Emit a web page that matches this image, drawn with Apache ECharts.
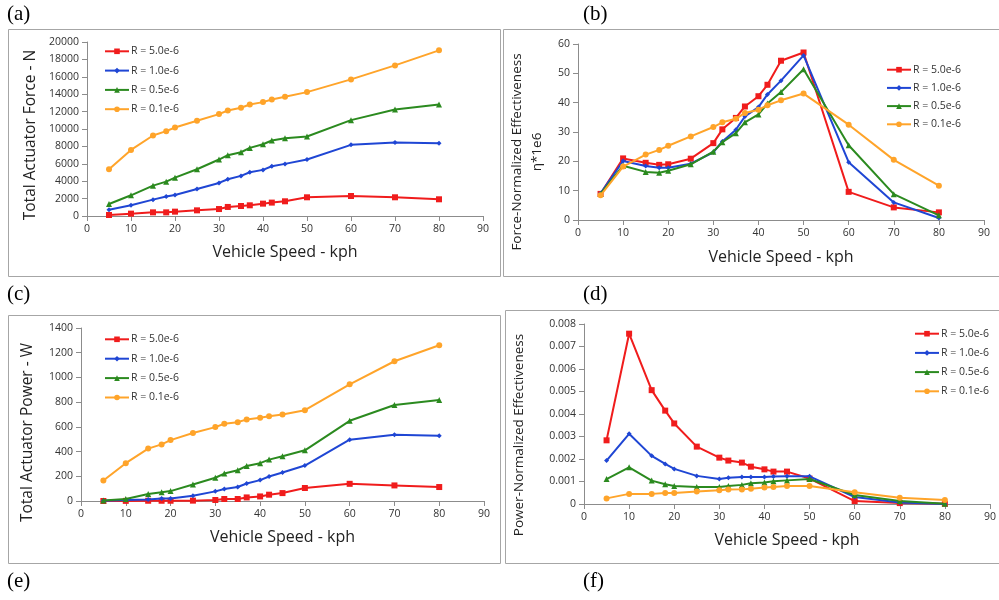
<!DOCTYPE html>
<html>
<head>
<meta charset="utf-8">
<title>Actuator force / power vs vehicle speed</title>
<script src="https://cdn.jsdelivr.net/npm/echarts@6/dist/echarts.min.js"></script>
<style>
  html, body { margin: 0; padding: 0; background: #fff; }
  #charts { width: 999px; height: 600px; }
</style>
</head>
<body>
<div id="charts"></div>
<script>
// vehicle speed (kph)
const speeds = [5, 10, 15, 18, 20, 25, 30, 32, 35, 37, 40, 42, 45, 50, 60, 70, 80];
const seriesNames = ['R = 5.0e-6', 'R = 1.0e-6', 'R = 0.5e-6', 'R = 0.1e-6'];

// (a) total actuator force - N
const forceR50 = [115, 270, 420, 420, 500, 650, 800, 1040, 1150, 1230, 1420, 1540, 1690, 2150, 2300, 2150, 1920];
const forceR10 = [730, 1230, 1880, 2230, 2420, 3110, 3800, 4220, 4610, 5030, 5300, 5720, 5990, 6490, 8180, 8450, 8370];
const forceR05 = [1380, 2380, 3490, 3950, 4410, 5370, 6490, 6990, 7330, 7830, 8250, 8680, 8940, 9140, 11020, 12250, 12820];
const forceR01 = [5375, 7600, 9250, 9750, 10170, 10940, 11710, 12130, 12440, 12820, 13090, 13400, 13700, 14240, 15700, 17310, 19040];

// (b) force-normalized effectiveness  eta*1e6
const fEffR50 = [8.9, 21.0, 19.5, 18.8, 19.0, 20.9, 26.2, 30.9, 34.8, 38.7, 42.2, 46.1, 54.3, 57.1, 9.6, 4.3, 2.6];
const fEffR10 = [9.1, 20.1, 18.4, 17.8, 17.8, 19.2, 23.1, 26.8, 30.8, 35.3, 38.5, 42.8, 47.5, 56.1, 19.7, 6.0, 0.7];
const fEffR05 = [8.9, 18.5, 16.4, 16.1, 16.8, 19.0, 23.3, 26.5, 29.6, 33.3, 36.0, 39.7, 43.6, 51.4, 25.5, 8.8, 1.6];
const fEffR01 = [8.4, 18.2, 22.3, 23.9, 25.3, 28.5, 31.7, 33.3, 34.5, 36.5, 37.6, 39.1, 40.8, 43.1, 32.5, 20.5, 11.7];

// (c) total actuator power - W
const powerR50 = [0, 1, 2, 2, 2, 3, 8, 16, 16, 29, 37, 51, 64, 105, 139, 126, 113];
const powerR10 = [3, 8, 13, 21, 21, 43, 78, 97, 113, 142, 169, 198, 231, 287, 496, 536, 528];
const powerR05 = [5, 16, 56, 70, 80, 134, 188, 222, 249, 284, 306, 335, 362, 410, 649, 777, 818];
const powerR01 = [166, 306, 424, 458, 493, 550, 598, 625, 638, 660, 673, 686, 700, 735, 944, 1131, 1260];

// (d) power-normalized effectiveness
const pEffR50 = [0.00283, 0.00757, 0.00506, 0.00415, 0.00358, 0.00255, 0.00206, 0.00193, 0.00184, 0.00166, 0.00154, 0.00144, 0.00144, 0.00113, 0.00013, 0.00004, 0.00001];
const pEffR10 = [0.00193, 0.00312, 0.00214, 0.00178, 0.00156, 0.00125, 0.00111, 0.00117, 0.00120, 0.00120, 0.00120, 0.00122, 0.00123, 0.00123, 0.00031, 0.00007, 0.0];
const pEffR05 = [0.00111, 0.00163, 0.00104, 0.00088, 0.00080, 0.00076, 0.00076, 0.00080, 0.00085, 0.00092, 0.00096, 0.00101, 0.00105, 0.00111, 0.00040, 0.00013, 0.00001];
const pEffR01 = [0.00025, 0.00045, 0.00045, 0.00049, 0.00049, 0.00056, 0.00061, 0.00064, 0.00065, 0.00068, 0.00073, 0.00076, 0.00080, 0.00080, 0.00052, 0.00028, 0.00018];

const panelLabels = ['(a)', '(b)', '(c)', '(d)', '(e)', '(f)'];

const colors = ['#f01c1c', '#1f46d4', '#2b8a1f', '#ffa42a'];
const symbols = ['rect', 'diamond', 'triangle', 'circle'];
const symbolSizes = [6, 5, 6, 6];
const font = '"Open Sans", "Noto Sans", sans-serif';
const axisColor = '#8c8c8c';

// yShift: push the rotated y title downwards (padding on the text's right end)
const panels = [
  {
    grid: { left: 87, top: 42, width: 396, height: 174 },
    yMax: 20000, yStep: 2000, yName: 'Total Actuator Force - N', yGap: 46, yFont: 15.5, yShift: 12,
    xGap: 28, legend: { left: 104, top: 45.8, itemGap: 8.3 },
    values: [forceR50, forceR10, forceR05, forceR01],
  },
  {
    grid: { left: 578, top: 44, width: 406, height: 176 },
    yMax: 60, yStep: 10, yName: 'Force-Normalized Effectiveness\nη*1e6', yGap: 31, yFont: 13.5, yShift: 40,
    xGap: 29, legend: { left: 886, top: 64.2, itemGap: 7.2 },
    values: [fEffR50, fEffR10, fEffR05, fEffR01],
  },
  {
    grid: { left: 81, top: 328, width: 403, height: 173 },
    yMax: 1400, yStep: 200, yName: 'Total Actuator Power - W', yGap: 43, yFont: 15.5, yShift: 36,
    xGap: 28, legend: { left: 104, top: 333.8, itemGap: 8.4 },
    values: [powerR50, powerR10, powerR05, powerR01],
  },
  {
    grid: { left: 584, top: 324, width: 407, height: 180 },
    yMax: 0.008, yStep: 0.001, yName: 'Power-Normalized Effectiveness', yGap: 55, yFont: 13.5, yShift: 42,
    xGap: 28, legend: { left: 914, top: 328.2, itemGap: 8.2 },
    values: [pEffR50, pEffR10, pEffR05, pEffR01],
  },
];

const charts = echarts.init(document.getElementById('charts'), null, { renderer: 'canvas' });

function plainNumber(v) {
  return String(Number(v.toPrecision(6)));
}

function getOptions() {
  const grid = [];
  const xAxis = [];
  const yAxis = [];
  const legend = [];
  const series = [];

  panels.forEach((p, i) => {
    grid.push(p.grid);
    xAxis.push({
      gridIndex: i,
      type: 'value',
      min: 0,
      max: 90,
      interval: 10,
      name: 'Vehicle Speed - kph',
      nameLocation: 'middle',
      nameGap: p.xGap,
      nameTextStyle: { fontFamily: font, fontSize: 16, color: '#222' },
      axisLine: { show: true, onZero: false, lineStyle: { color: axisColor } },
      axisTick: { show: true, length: 5, lineStyle: { color: axisColor } },
      axisLabel: { fontFamily: font, fontSize: 10.5, color: '#333', margin: 8, formatter: plainNumber },
      splitLine: { show: false },
    });
    yAxis.push({
      gridIndex: i,
      type: 'value',
      min: 0,
      max: p.yMax,
      interval: p.yStep,
      name: p.yName,
      nameLocation: 'middle',
      nameGap: p.yGap,
      nameMoveOverlap: false,
      nameTextStyle: {
        fontFamily: font, fontSize: p.yFont, color: '#222', lineHeight: 20,
        padding: [0, p.yShift, 0, 0],
      },
      axisLine: { show: true, lineStyle: { color: axisColor } },
      axisTick: { show: true, length: 5, lineStyle: { color: axisColor } },
      axisLabel: { fontFamily: font, fontSize: 10.5, color: '#333', margin: 8, formatter: plainNumber },
      splitLine: { show: false },
    });
    legend.push({
      orient: 'vertical',
      left: p.legend.left,
      top: p.legend.top,
      itemGap: p.legend.itemGap,
      itemWidth: 24,
      itemHeight: 7,
      selectedMode: false,
      padding: 0,
      data: seriesNames,
      textStyle: { fontFamily: font, fontSize: 10.5, color: '#333', padding: [0, 0, 0, -3] },
    });
    p.values.forEach((vals, k) => {
      series.push({
        name: seriesNames[k],
        type: 'line',
        xAxisIndex: i,
        yAxisIndex: i,
        data: speeds.map((s, j) => [s, vals[j]]),
        symbol: symbols[k],
        symbolSize: symbolSizes[k],
        showSymbol: true,
        animation: false,
        z: 2 + k,
        lineStyle: { color: colors[k], width: 2 },
        itemStyle: { color: colors[k] },
      });
    });
  });

  // panel captions (a)-(f)
  const labelPos = [[7, 4], [583, 4], [7, 284], [583, 284], [7, 571], [583, 571]];
  const title = panelLabels.map((t, i) => ({
    text: t,
    left: labelPos[i][0],
    top: labelPos[i][1],
    padding: 0,
    textStyle: { fontFamily: '"Liberation Serif", serif', fontSize: 21, fontWeight: 'normal', color: '#000' },
  }));

  // gray frames round each panel
  const frames = [
    [8.5, 29.5, 492, 247],
    [503.5, 29.5, 500, 247],
    [8.5, 315.5, 492, 248],
    [505.5, 310.5, 500, 253],
  ];
  const graphic = frames.map((f) => ({
    type: 'rect',
    silent: true,
    shape: { x: f[0], y: f[1], width: f[2], height: f[3] },
    style: { fill: 'none', stroke: '#a6a6a6', lineWidth: 1 },
    z: -1,
  }));

  return {
    animation: false,
    backgroundColor: '#fff',
    title,
    graphic,
    grid,
    xAxis,
    yAxis,
    legend,
    series,
  };
}

charts.setOption(getOptions());
</script>
</body>
</html>
